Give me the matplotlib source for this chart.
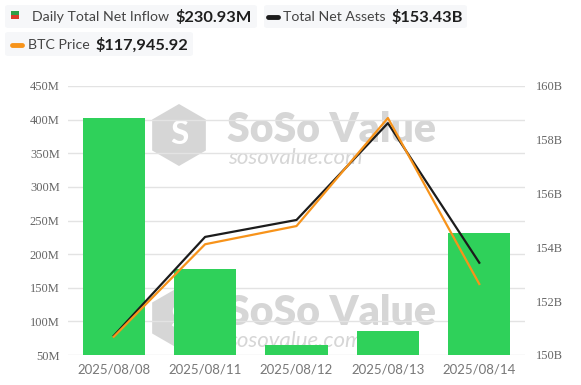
import matplotlib.pyplot as plt
from matplotlib.patches import FancyBboxPatch, Rectangle, RegularPolygon

# chart data
dates = ["2025/08/08", "2025/08/11", "2025/08/12", "2025/08/13", "2025/08/14"]
net_inflow_m = [402.7, 178.0, 64.9, 85.7, 230.93]
net_assets_b = [150.71, 154.39, 155.02, 158.62, 153.43]
btc_price = [116150, 119300, 119920, 123600, 117945.92]

left_ticks = [50, 100, 150, 200, 250, 300, 350, 400, 450]
right_ticks = [150, 152, 154, 156, 158, 160]

W, H = 581, 385
GREEN = "#2fd15a"
BLACK = "#1c1c1c"
ORANGE = "#f7931a"
WM = "#d6d6d6"

fig = plt.figure(figsize=(W / 100, H / 100), dpi=100)


def px(x, y):
    # pixel coords (top-left origin) -> figure fraction
    return x / W, 1 - y / H


ax = fig.add_axes([68 / W, 30 / H, 457 / W, 269 / H])
x = list(range(len(dates)))

# watermarks (behind everything)
for dy in (0, 183):
    cx, cy = px(179, 135 + dy)
    fig.patches.append(RegularPolygon((cx * W, cy * H), 6, radius=31,
                                      orientation=0, facecolor=WM, edgecolor="none",
                                      transform=None, zorder=0))
    fig.text(cx, cy, "S", color="white", fontsize=24, fontweight="bold",
             family="Lato", ha="center", va="center", zorder=0.5)
    tx, ty = px(227, 130 + dy)
    fig.text(tx, ty, "SoSo Value", color=WM, fontsize=29.5, fontweight="heavy",
             family="Lato", ha="left", va="center", zorder=0.5)
    tx, ty = px(228, 158 + dy)
    fig.text(tx, ty, "sosovalue.com", color=WM, fontsize=16, style="italic",
             family="Lato", ha="left", va="center", zorder=0.5)

ax.set_zorder(1)
ax.patch.set_alpha(0)
ax.bar(x, net_inflow_m, width=0.68, color=GREEN, zorder=2)
ax.set_ylim(50, 450)
ax.set_xlim(-0.5, len(dates) - 0.5)
ax.set_yticks(left_ticks)
ax.set_yticklabels([f"{v}M" for v in left_ticks], family="Liberation Serif",
                   fontsize=9, color="#666666")
ax.set_xticks(x)
ax.set_xticklabels(dates, family="Lato", fontsize=9.5, color="#777777")
ax.grid(axis="y", color="#e3e3e3", linewidth=1, zorder=0)
ax.tick_params(length=0, pad=6)
for s in ax.spines.values():
    s.set_visible(False)

ax2 = ax.twinx()
ax2.plot(x, net_assets_b, color=BLACK, linewidth=1.6, zorder=3)
ax2.set_ylim(150, 160)
ax2.set_yticks(right_ticks)
ax2.set_yticklabels([f"{v}B" for v in right_ticks], family="Liberation Serif",
                    fontsize=9, color="#666666")
ax2.tick_params(length=0, pad=8)
for s in ax2.spines.values():
    s.set_visible(False)

ax3 = ax.twinx()
ax3.plot(x, btc_price, color=ORANGE, linewidth=1.6, zorder=3)
ax3.set_ylim(115528, 124690)
ax3.axis("off")


# legend chips at the top
def chip(x0, y0, w, h):
    fx, fy = px(x0, y0 + h)
    fig.patches.append(FancyBboxPatch((fx, fy), w / W, h / H,
                                      boxstyle="round,pad=0,rounding_size=0.006",
                                      facecolor="#f6f7f9", edgecolor="none",
                                      transform=fig.transFigure))


chip(5, 5, 252, 23)
chip(264, 5, 203, 23)
chip(5, 32, 188, 24)

gx, gy = px(11, 19)
fig.patches.append(Rectangle((gx, gy), 8 / W, 4 / H, facecolor="#d93a2b",
                             transform=fig.transFigure))
gx, gy = px(11, 15)
fig.patches.append(Rectangle((gx, gy), 8 / W, 4 / H, facecolor="#2e9e48",
                             transform=fig.transFigure))
fig.lines.append(plt.Line2D([268 / W, 278 / W], [1 - 17 / H] * 2, color=BLACK,
                            linewidth=3.5, solid_capstyle="round",
                            transform=fig.transFigure))
fig.lines.append(plt.Line2D([12 / W, 22 / W], [1 - 45 / H] * 2, color=ORANGE,
                            linewidth=3.5, solid_capstyle="round",
                            transform=fig.transFigure))

labels = [
    (32, 17, "Daily Total Net Inflow", "$230.93M"),
    (283, 17, "Total Net Assets", "$153.43B"),
    (28, 45, "BTC Price", "$117,945.92"),
]
renderer = fig.canvas.get_renderer()
for lx, ly, name, val in labels:
    fx, fy = px(lx, ly)
    t = fig.text(fx, fy, name, family="Lato", ha="left", va="center",
                 fontsize=10.2, color="#444444")
    x1 = t.get_window_extent(renderer).x1
    fig.text((x1 + 6) / W, fy, val, family="Lato", ha="left", va="center",
             fontsize=11.8, fontweight="bold", color="#1e1e1e")

fig.savefig("out.png", dpi=100)
